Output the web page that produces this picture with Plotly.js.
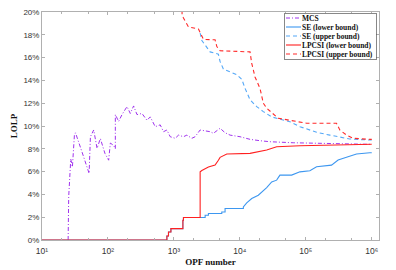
<!DOCTYPE html>
<html><head><meta charset="utf-8">
<script src="https://cdn.plot.ly/plotly-3.0.1.min.js"></script>
<style>html,body{margin:0;padding:0;background:#fff}#c{width:396px;height:270px}</style>
</head><body><div id="c"></div>
<script>
const mcsX = [24.9,25.4,27.3,28.9,31.0,32.2,40,48.3,51.8,54.2,60.8,68.4,76.7,90,102.5,108.7,122,129.4,129.4,145.2,163.4,194.5,218.3,245,275.6,328,390.6,438,521,620,696,783,879,1047,1175,1397,1573,1871,2099,2500,2977,3542,3975,5015,5970,7110,10070,14270,20200,28630,64440,206400,933000,1000000];
const mcsY = [0,3.8,7.1,6.4,9.2,9.4,7.8,6.3,5.84,9.06,9.65,8.04,8.9,7.6,7.0,8.5,8.3,8.0,11.0,10.4,11.0,11.7,11.1,11.76,11.0,11.1,10.5,10.8,9.94,10.1,9.5,9.65,9.06,8.92,9.2,9.06,9.2,8.92,9.06,9.65,9.59,9.5,9.36,9.8,9.41,9.2,9.06,8.83,8.71,8.62,8.53,8.48,8.39,8.39];

const seLowX = [10,783,783,828,828,901,901,1369,1369,1397,1397,2500,2977,2977,3337,3337,5322,5322,5970,5970,11300,11300,12710,15140,19050,25530,30390,36140,40550,60970,81470,115300,145600,245500,309000,414000,587000,933000,1000000];
const seLowY = [0,0,0.35,0.35,0.7,0.7,1.0,1.0,1.73,1.73,1.97,1.97,1.97,2.17,2.17,2.32,2.32,2.46,2.46,2.76,2.76,2.9,3.25,3.64,3.93,4.6,5.1,5.25,5.69,5.69,5.98,6.07,6.42,6.57,7.01,7.25,7.54,7.65,7.65];

const seUpX = [2500,2655,3155,3542,4728,5015,5623,7110,8977,10690,12000,14270,18030,22700,30390,40550,57410,81470,115300,145600,231700,328000,464500,933000,1000000];
const seUpY = [18.15,17.5,16.9,16.5,16.3,15.66,15.0,14.77,14.5,14.1,13.3,12.3,11.7,11.26,10.8,10.6,10.38,9.94,9.65,9.45,9.2,9.0,8.86,8.77,8.77];

const lpLowX = [10,783,783,828,828,901,901,1369,1369,1397,1397,2500,2500,2655,3337,4212,4728,5015,6336,14270,25530,36140,81470,933000,1000000];
const lpLowY = [0,0,0.35,0.35,0.7,0.7,1.0,1.0,1.73,1.73,1.97,1.97,5.98,6.1,6.4,6.57,7.0,7.25,7.54,7.6,7.9,8.18,8.27,8.39,8.4];

const lpUpX = [1321,1330,1397,1663,2357,2500,2805,4212,4477,5015,14270,15140,16980,20200,22700,25530,28630,32130,38200,57410,72600,102800,292000,328000,414000,521000,933000,1000000];
const lpUpY = [22,19.8,19.47,18.7,18.5,18.15,17.6,17.56,16.97,16.6,16.5,15.5,14.3,13.3,12.0,11.56,11.3,11.0,10.68,10.5,10.38,10.24,10.24,9.65,9.2,8.92,8.83,8.83];

const names = ['MCS','SE (lower bound)','SE (upper bound)','LPCSI (lower bound)','LPCSI (upper bound)'];
const xTickVals = [10,100,1000,10000,100000,1000000];
const xTickText = ['10¹','10²','10³','10⁴','10⁵','10⁶'];

const traces = [
 {x:mcsX,y:mcsY,name:names[0],line:{color:'#a033ee',width:1,dash:'4px,2px,1px,2px'}},
 {x:seLowX,y:seLowY,name:names[1],line:{color:'#3d97f0',width:1.1}},
 {x:seUpX,y:seUpY,name:names[2],line:{color:'#55a8f7',width:1.1,dash:'4px,3px'}},
 {x:lpLowX,y:lpLowY,name:names[3],line:{color:'#ff2020',width:1.1}},
 {x:lpUpX,y:lpUpY,name:names[4],line:{color:'#ff2a2a',width:1.1,dash:'4px,3px'}}
].map(t=>Object.assign({type:'scatter',mode:'lines'},t));

const axisCommon = {showline:true,mirror:'ticks',linecolor:'#b0b0b0',linewidth:1,ticks:'inside',ticklen:3,tickcolor:'#b0b0b0',showgrid:false,zeroline:false,tickfont:{family:'Liberation Sans, Arial, sans-serif',size:8,color:'#333'}};

const layout = {
 width:396,height:270,margin:{l:42,r:17,t:12,b:30},
 paper_bgcolor:'#fff',plot_bgcolor:'#fff',
 xaxis:Object.assign({},axisCommon,{type:'log',range:[1,6.11],tickvals:xTickVals,ticktext:xTickText,ticklabelstandoff:3,
   tickfont:{family:'Liberation Sans, Arial, sans-serif',size:8.5,color:'#333'},
   minor:{ticks:'inside',ticklen:2,tickcolor:'#b0b0b0',showgrid:false},
   title:{text:'OPF number',standoff:3,font:{family:'Liberation Serif, Times New Roman, serif',size:9,color:'#111',weight:'bold'}}}),
 yaxis:Object.assign({},axisCommon,{range:[0,20],dtick:2,ticksuffix:'%',
   title:{text:'LOLP',standoff:4,font:{family:'Liberation Serif, Times New Roman, serif',size:9,color:'#111',weight:'bold'}}}),
 showlegend:true,
 legend:{x:0.985,y:0.995,xanchor:'right',yanchor:'top',bgcolor:'#fff',bordercolor:'#555',borderwidth:0.7,
   font:{family:'Liberation Serif, Times New Roman, serif',size:7.5,color:'#111',weight:'bold'},
   itemwidth:30,tracegroupgap:0}
};
Plotly.newPlot('c',traces,layout,{staticPlot:true}).then(function(gd){
  // compact the legend rows like the reference
  const leg = gd.querySelector('g.legend');
  if(!leg) return;
  const items = leg.querySelectorAll('g.traces');
  const rowH = 9, top = 5;
  let maxW = 0;
  items.forEach(function(g,i){
    g.setAttribute('transform','translate(0,'+(top+i*rowH)+')');
    const p = g.querySelector('path.js-line');
    if(p) p.setAttribute('d','M2,0h15');
    const t = g.querySelector('text.legendtext');
    if(t){ t.setAttribute('x',18); maxW = Math.max(maxW, t.getBBox().width); }
  });
  const w = Math.ceil(18+maxW+3), h = top+(items.length-1)*rowH+5;
  const bg = leg.querySelector('rect.bg');
  if(bg){ bg.setAttribute('width',w); bg.setAttribute('height',h); }
  const sb = leg.querySelector('g.scrollbox');
  if(sb) sb.removeAttribute('clip-path');
  leg.setAttribute('transform','translate('+(376-w)+',13)');
});
</script></body></html>
